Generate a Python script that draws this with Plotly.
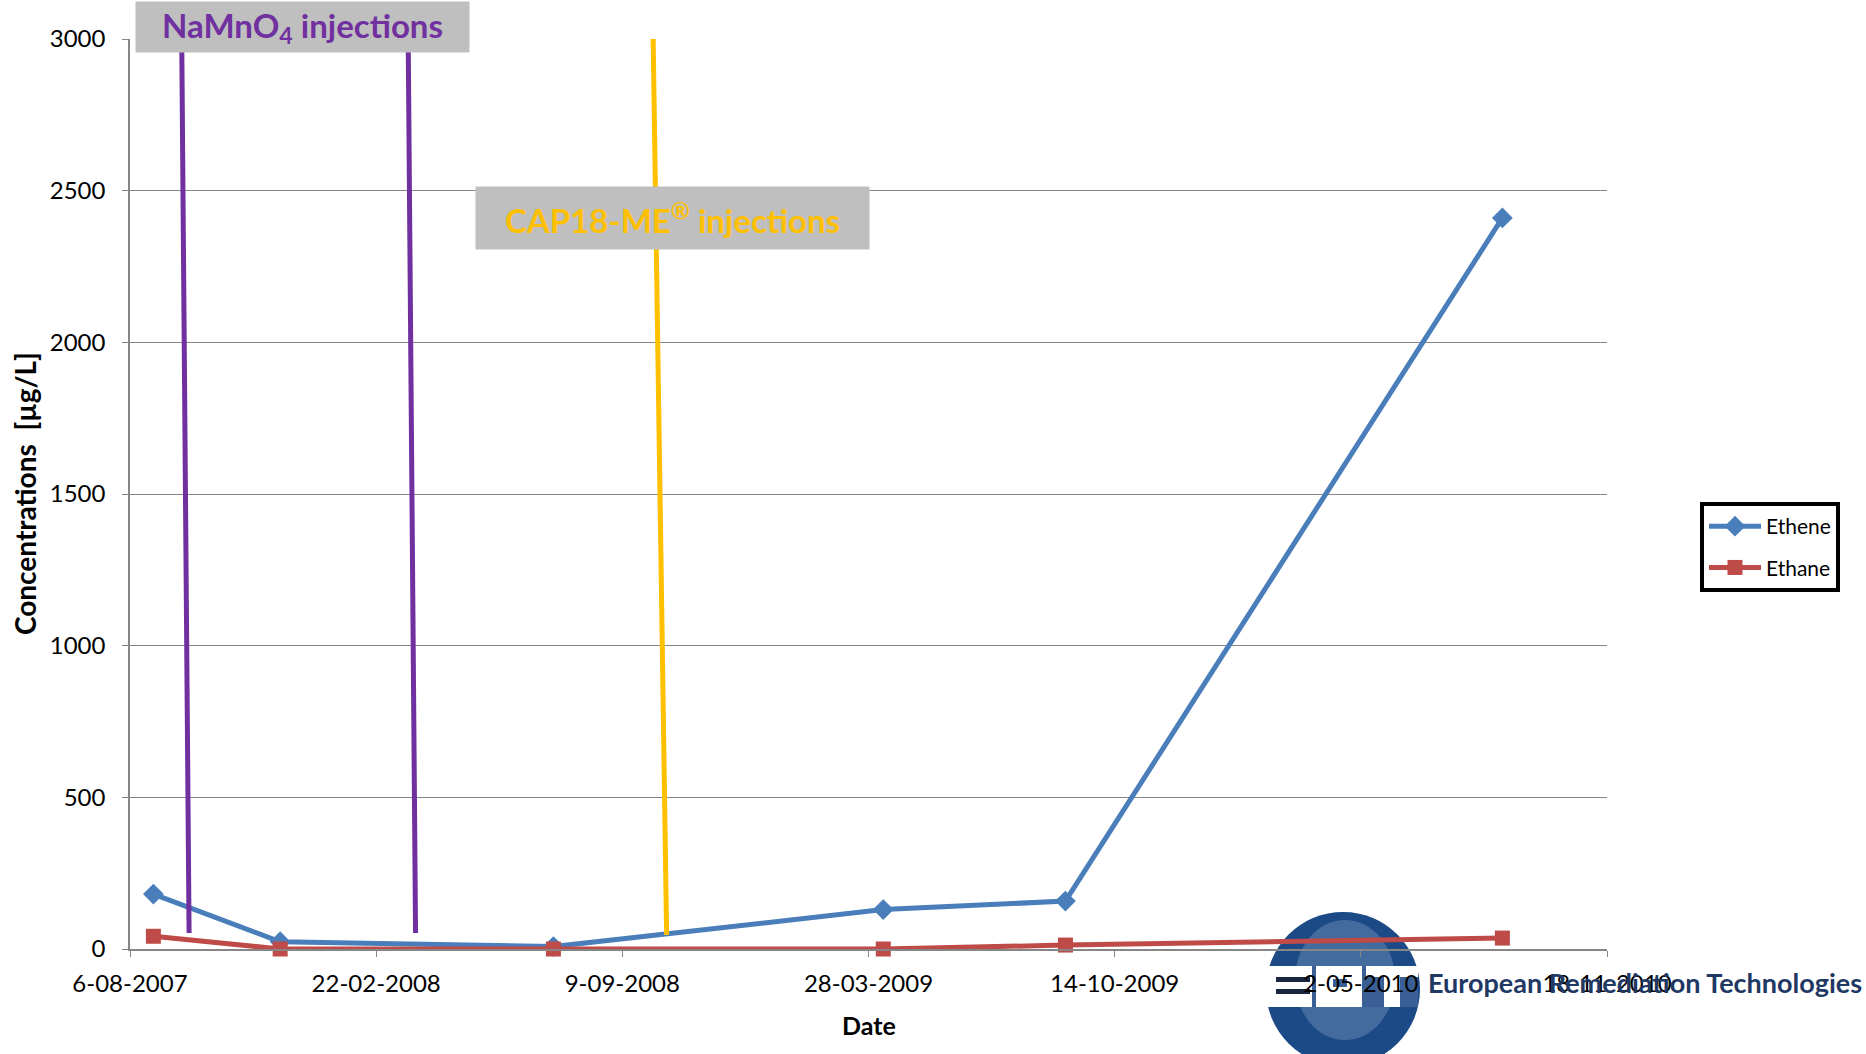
import plotly.graph_objects as go

# ---- data ----
sample_dates = ["2007-08-25", "2007-12-06", "2008-07-15", "2009-04-09", "2009-09-04", "2010-08-25"]
ethene = [181, 24, 8, 130, 158, 2410]
ethane = [42, 0, 0, 0, 13, 36]

# injection markers: (top date, bottom date, top value, bottom value)
namno4_top_dates = ["2007-09-17", "2008-03-19"]
namno4_bottom_dates = ["2007-09-23", "2008-03-25"]
cap18_top_dates = ["2008-10-04"]
cap18_bottom_dates = ["2008-10-15"]
inj_top_value = 3010
namno4_bottom_value = 53
cap18_bottom_value = 46

x_start, x_end = "2007-08-06", "2010-11-18"
tick_step_days = 200
y_max, y_step = 3000, 500

FONT = "Lato, 'Open Sans', sans-serif"
BLUE = "#4A7EBB"
RED = "#BE4B48"
PURPLE = "#7030A0"
YELLOW = "#FFC000"
GRID = "#868686"

# plot-area pixel frame (used to place decorations in paper units)
PL, PR, PT, PB = 130, 1607, 39, 949


def px(x):
    return (x - PL) / (PR - PL)


def py(y):
    return (PB - y) / (PB - PT)


fig = go.Figure()
fig.add_trace(go.Scatter(
    x=sample_dates, y=ethene, name="Ethene", mode="lines+markers",
    line=dict(color=BLUE, width=5),
    marker=dict(symbol="diamond", size=16, color=BLUE),
    legendgroup="a", cliponaxis=False))
fig.add_trace(go.Scatter(
    x=sample_dates, y=ethane, name="Ethane", mode="lines+markers",
    line=dict(color=RED, width=5),
    marker=dict(symbol="square", size=15, color=RED),
    legendgroup="b", cliponaxis=False))

shapes = []
for t, b in zip(namno4_top_dates, namno4_bottom_dates):
    shapes.append(dict(type="line", xref="x", yref="y", x0=t, x1=b,
                       y0=inj_top_value, y1=namno4_bottom_value,
                       line=dict(color=PURPLE, width=5)))
for t, b in zip(cap18_top_dates, cap18_bottom_dates):
    shapes.append(dict(type="line", xref="x", yref="y", x0=t, x1=b,
                       y0=inj_top_value, y1=cap18_bottom_value,
                       line=dict(color=YELLOW, width=5)))


def logo_rect(x0, x1, y0, y1, color, kind="rect", opacity=1.0):
    return dict(type=kind, xref="paper", yref="paper", layer="below",
                x0=px(x0), x1=px(x1), y0=py(y1), y1=py(y0),
                fillcolor=color, opacity=opacity, line=dict(width=0))


# logo approximation (globe with white EPT band)
shapes += [
    logo_rect(1266, 1420, 912, 1066, "#1C4A86", "circle"),
    logo_rect(1295, 1395, 920, 1040, "#8FA8CC", "circle", 0.35),
    logo_rect(1264, 1418, 966, 1007, "white"),
    logo_rect(1276, 1310, 977, 982, "#1A2540"),
    logo_rect(1276, 1310, 989, 994, "#1A2540"),
    logo_rect(1312, 1316, 966, 1007, "#3A5F95"),
    logo_rect(1333, 1347, 979, 987, "#3A5F95"),
    logo_rect(1362, 1366, 966, 1007, "#3A5F95"),
    logo_rect(1366, 1384, 977, 1007, "#3A5F95"),
    logo_rect(1400, 1418, 977, 1007, "#3A5F95"),
]

annotations = [
    dict(text="NaMnO<sub>4</sub> injections", xref="paper", yref="paper",
         x=px(302.5), y=py(27), showarrow=False,
         xanchor="center", yanchor="middle",
         width=333, height=50, bgcolor="#BFBFBF", borderpad=0,
         font=dict(family=FONT, size=33, color=PURPLE, weight="bold")),
    dict(text="CAP18-ME<sup>®</sup> injections", xref="paper", yref="paper",
         x=px(672.5), y=py(218), showarrow=False,
         xanchor="center", yanchor="middle",
         width=393, height=62, bgcolor="#BFBFBF", borderpad=0,
         font=dict(family=FONT, size=33, color=YELLOW, weight="bold")),
    dict(text="Concentrations  [µg/L]", xref="paper", yref="paper",
         x=px(25), y=0.5, textangle=-90, showarrow=False,
         xanchor="center", yanchor="middle",
         font=dict(family=FONT, size=28, color="black", weight="bold")),
    dict(text="Date", xref="paper", yref="paper",
         x=0.5, y=py(1025), showarrow=False,
         xanchor="center", yanchor="middle",
         font=dict(family=FONT, size=25, color="black", weight="bold")),
    dict(text="European Remediation Technologies", xref="paper", yref="paper",
         x=px(1426), y=py(982), xanchor="left",
         yanchor="middle", showarrow=False,
         font=dict(family="'Liberation Sans Narrow', " + FONT, size=27,
                   color="#1F3864", weight="bold")),
]

fig.update_layout(
    width=1866, height=1054,
    margin=dict(l=PL, r=1866 - PR, t=PT, b=1054 - PB, autoexpand=False),
    paper_bgcolor="white", plot_bgcolor="white",
    font=dict(family=FONT, color="black"),
    shapes=shapes, annotations=annotations,
    legend=dict(x=px(1700), y=py(547),
                xanchor="left", yanchor="middle",
                bordercolor="black", borderwidth=4,
                itemwidth=52,
                font=dict(family=FONT, size=21, color="black"),
                tracegroupgap=11, traceorder="grouped"),
    xaxis=dict(type="date", range=[x_start, x_end], tick0=x_start,
               dtick=tick_step_days * 86400000, tickformat="%-d-%m-%Y",
               showgrid=False, zeroline=False, showline=True, linecolor=GRID,
               linewidth=1.5, ticks="outside", ticklen=6, tickcolor=GRID,
               ticklabelstandoff=6,
               tickfont=dict(family=FONT, size=24, color="black")),
    yaxis=dict(range=[0, y_max], dtick=y_step, showgrid=True, gridcolor=GRID,
               gridwidth=1.2, zeroline=False, showline=True, linecolor=GRID,
               linewidth=1.5, ticks="outside", ticklen=6, tickcolor=GRID,
               ticklabelstandoff=12,
               tickfont=dict(family=FONT, size=24, color="black")),
)

fig.write_html("out.html")
